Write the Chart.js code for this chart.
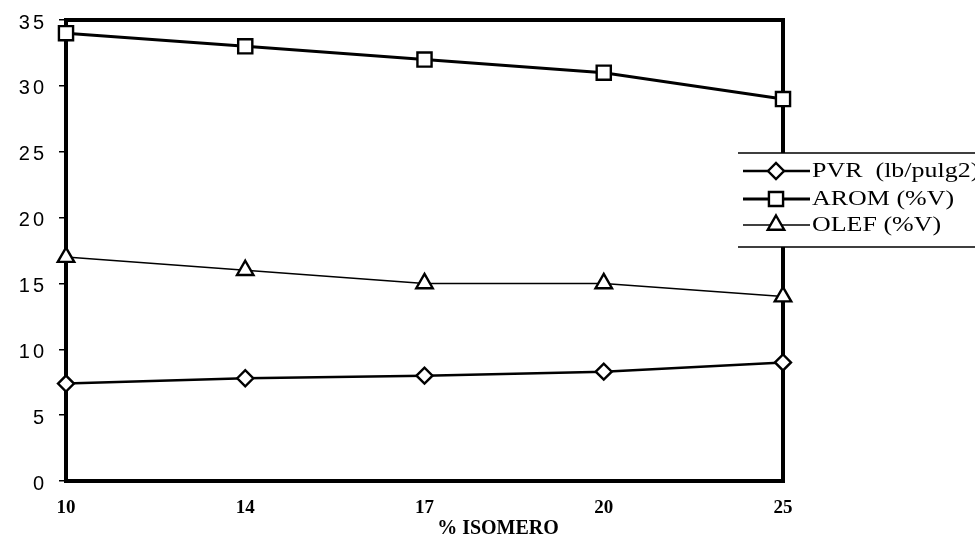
<!DOCTYPE html>
<html>
<head>
<meta charset="utf-8">
<script src="https://cdn.jsdelivr.net/npm/chart.js@4/dist/chart.umd.min.js"></script>
<style>
  html, body { margin: 0; padding: 0; background: #fff; }
  #wrap { width: 975px; height: 546px; }
</style>
</head>
<body>
<div id="wrap"><canvas id="c" width="975" height="546"></canvas></div>
<script>
// Isomer percentage on the x axis
const categories = ['10', '14', '17', '20', '25'];
// Series values
const pvr  = [7.4, 7.8, 8.0, 8.3, 9.0];
const arom = [34, 33, 32, 31, 29];
const olef = [17, 16, 15, 15, 14];
// Y axis tick values
const yTicks = [0, 5, 10, 15, 20, 25, 30, 35];
const seriesLabels = ['PVR  (lb/pulg2)', 'AROM (%V)', 'OLEF (%V)'];
const axisTitle = '% ISOMERO';

const SERIF = '"Liberation Serif", "Times New Roman", serif';
const SANS = '"Liberation Sans", Arial, sans-serif';

// Thick black frame around the plotting area
const framePlugin = {
  id: 'frame',
  beforeDatasetsDraw(chart) {
    const { ctx, chartArea: a } = chart;
    ctx.save();
    ctx.lineWidth = 4;
    ctx.strokeStyle = '#000';
    ctx.strokeRect(a.left, a.top, a.right - a.left, a.bottom - a.top);
    ctx.restore();
  }
};

// Y tick labels with wide letter spacing, placed through the y scale
const yLabelPlugin = {
  id: 'yLabels',
  afterDraw(chart) {
    const { ctx } = chart;
    const y = chart.scales.y;
    ctx.save();
    ctx.font = '20px ' + SANS;
    ctx.fillStyle = '#000';
    ctx.textAlign = 'left';
    ctx.textBaseline = 'middle';
    const spacing = 3;
    y.ticks.forEach(t => {
      const txt = String(t.value);
      let w = 0;
      for (const ch of txt) w += ctx.measureText(ch).width;
      w += spacing * (txt.length - 1);
      let x = 44 - w;
      const py = y.getPixelForValue(t.value) + 3;
      for (const ch of txt) {
        ctx.fillText(ch, x, py);
        x += ctx.measureText(ch).width + spacing;
      }
    });
    ctx.restore();
  }
};

// X axis title
const titlePlugin = {
  id: 'xTitle',
  afterDraw(chart) {
    const { ctx } = chart;
    ctx.save();
    ctx.font = 'bold 20px ' + SERIF;
    ctx.fillStyle = '#000';
    ctx.textAlign = 'center';
    ctx.textBaseline = 'middle';
    ctx.fillText(axisTitle, 498, 529);
    ctx.restore();
  }
};

// Legend box at the right, one row per dataset with its line and marker
const legendPlugin = {
  id: 'sideLegend',
  afterDraw(chart) {
    const { ctx } = chart;
    const left = 738, right = 975, top = 153, bottom = 247;
    const rows = [171, 199, 225];
    ctx.save();
    ctx.fillStyle = '#fff';
    ctx.fillRect(left, top, right - left, bottom - top);
    ctx.strokeStyle = '#000';
    ctx.lineWidth = 1.5;
    ctx.beginPath();
    ctx.moveTo(left, top); ctx.lineTo(right, top);
    ctx.moveTo(left, bottom); ctx.lineTo(right, bottom);
    ctx.stroke();
    chart.data.datasets.forEach((ds, i) => {
      const cy = rows[i];
      ctx.strokeStyle = '#000';
      ctx.lineWidth = ds.borderWidth;
      ctx.beginPath();
      ctx.moveTo(743, cy); ctx.lineTo(810, cy);
      ctx.stroke();
      ctx.fillStyle = '#fff';
      ctx.strokeStyle = '#000';
      ctx.lineWidth = ds.pointBorderWidth;
      Chart.helpers.drawPoint(ctx, {
        pointStyle: ds.pointStyle,
        radius: ds.pointRadius,
        borderWidth: ds.pointBorderWidth,
        rotation: 0
      }, 776, cy);
      ctx.fillStyle = '#000';
      ctx.font = '22px ' + SERIF;
      ctx.textAlign = 'left';
      ctx.textBaseline = 'middle';
      ctx.save();
      ctx.translate(812, cy);
      ctx.scale(1.18, 1);
      ctx.fillText(ds.label, 0, 0);
      ctx.restore();
    });
    ctx.restore();
  }
};

function series(label, data, style, radius, lineW, pointW) {
  return {
    label, data,
    borderColor: '#000',
    borderWidth: lineW,
    backgroundColor: '#fff',
    pointStyle: style,
    pointRadius: radius,
    pointHoverRadius: radius,
    pointBorderWidth: pointW,
    pointBorderColor: '#000',
    pointBackgroundColor: '#fff',
    tension: 0,
    fill: false,
    clip: false
  };
}

new Chart(document.getElementById('c'), {
  type: 'line',
  data: {
    labels: categories,
    datasets: [
      series(seriesLabels[0], pvr, 'rectRot', 8, 2.5, 2.4),
      series(seriesLabels[1], arom, 'rect', 10, 3, 2.4),
      series(seriesLabels[2], olef, 'triangle', 9.5, 1.5, 2.4)
    ]
  },
  options: {
    responsive: false,
    devicePixelRatio: 1,
    animation: false,
    events: [],
    layout: { padding: { top: 20, right: 192, bottom: 0, left: 0 } },
    plugins: { legend: { display: false }, tooltip: { enabled: false }, title: { display: false } },
    scales: {
      x: {
        type: 'category',
        offset: false,
        grid: { display: false, drawTicks: false },
        border: { display: false },
        ticks: {
          color: '#000',
          padding: 16,
          maxRotation: 0,
          font: { family: SERIF, size: 19, weight: 'bold' }
        },
        afterFit(scale) { scale.height = 65; }
      },
      y: {
        min: 0,
        max: 35,
        afterBuildTicks(scale) { scale.ticks = yTicks.map(v => ({ value: v })); },
        ticks: { display: false },
        grid: { drawOnChartArea: false, drawTicks: true, tickLength: 7, color: '#000', lineWidth: 1.5 },
        border: { display: false },
        afterFit(scale) { scale.width = 66; }
      }
    }
  },
  plugins: [framePlugin, yLabelPlugin, titlePlugin, legendPlugin]
});
</script>
</body>
</html>
